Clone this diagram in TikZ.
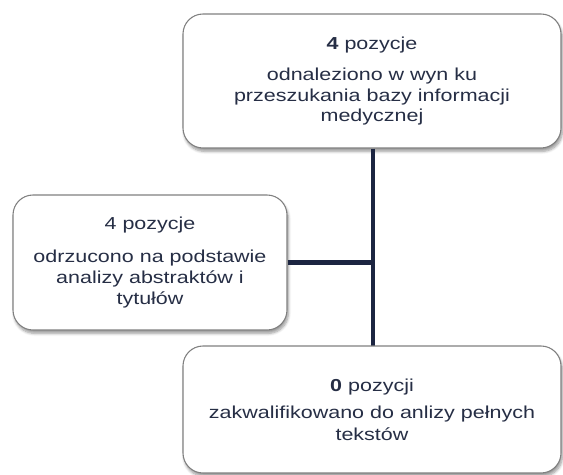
\documentclass[tikz,border=0pt]{standalone}
\usepackage{fontspec}
\setmainfont[FakeStretch=1.24]{Liberation Sans}
\usetikzlibrary{shadows.blur}
\definecolor{txt}{HTML}{262E45}
\definecolor{ln}{HTML}{1C2541}
\definecolor{bd}{HTML}{808080}
\begin{document}
\begin{tikzpicture}[x=0.75pt,y=-0.75pt,
  box/.style={draw=bd, line width=0.8pt, fill=white, rounded corners=15pt,
    align=center, text=txt, inner sep=0pt,
    font=\fontsize{13}{15.4}\selectfont,
    blur shadow={shadow xshift=1pt, shadow yshift=-2.5pt, shadow blur steps=6, shadow blur radius=2pt}},
  conn/.style={draw=ln, line width=3.6pt}]
\useasboundingbox (0,0) rectangle (563,474);
\node[box, minimum width=378*0.75pt, minimum height=134*0.75pt] (b1) at (372,81)
  {\textbf{4} pozycje\\[7.9pt]odnaleziono w wyn ku\\przeszukania bazy informacji\\medycznej};
\node[box, minimum width=274*0.75pt, minimum height=135*0.75pt] (b2) at (150,262.5)
  {4 pozycje\\[9.4pt]odrzucono na podstawie\\analizy abstraktów i\\tytułów};
\draw[conn] ([xshift=0.75pt]b1.south) -- ([xshift=0.75pt]b1.south |- 0,346);
\draw[conn] (b2.east) -- ([xshift=0.75pt]b1.south |- b2.east);
\node[box, minimum width=378*0.75pt, minimum height=127*0.75pt] (b3) at (372,409.5)
  {\textbf{0} pozycji\\[4.9pt]zakwalifikowano do anlizy pełnych\\[1.2pt]tekstów};
\end{tikzpicture}
\end{document}
